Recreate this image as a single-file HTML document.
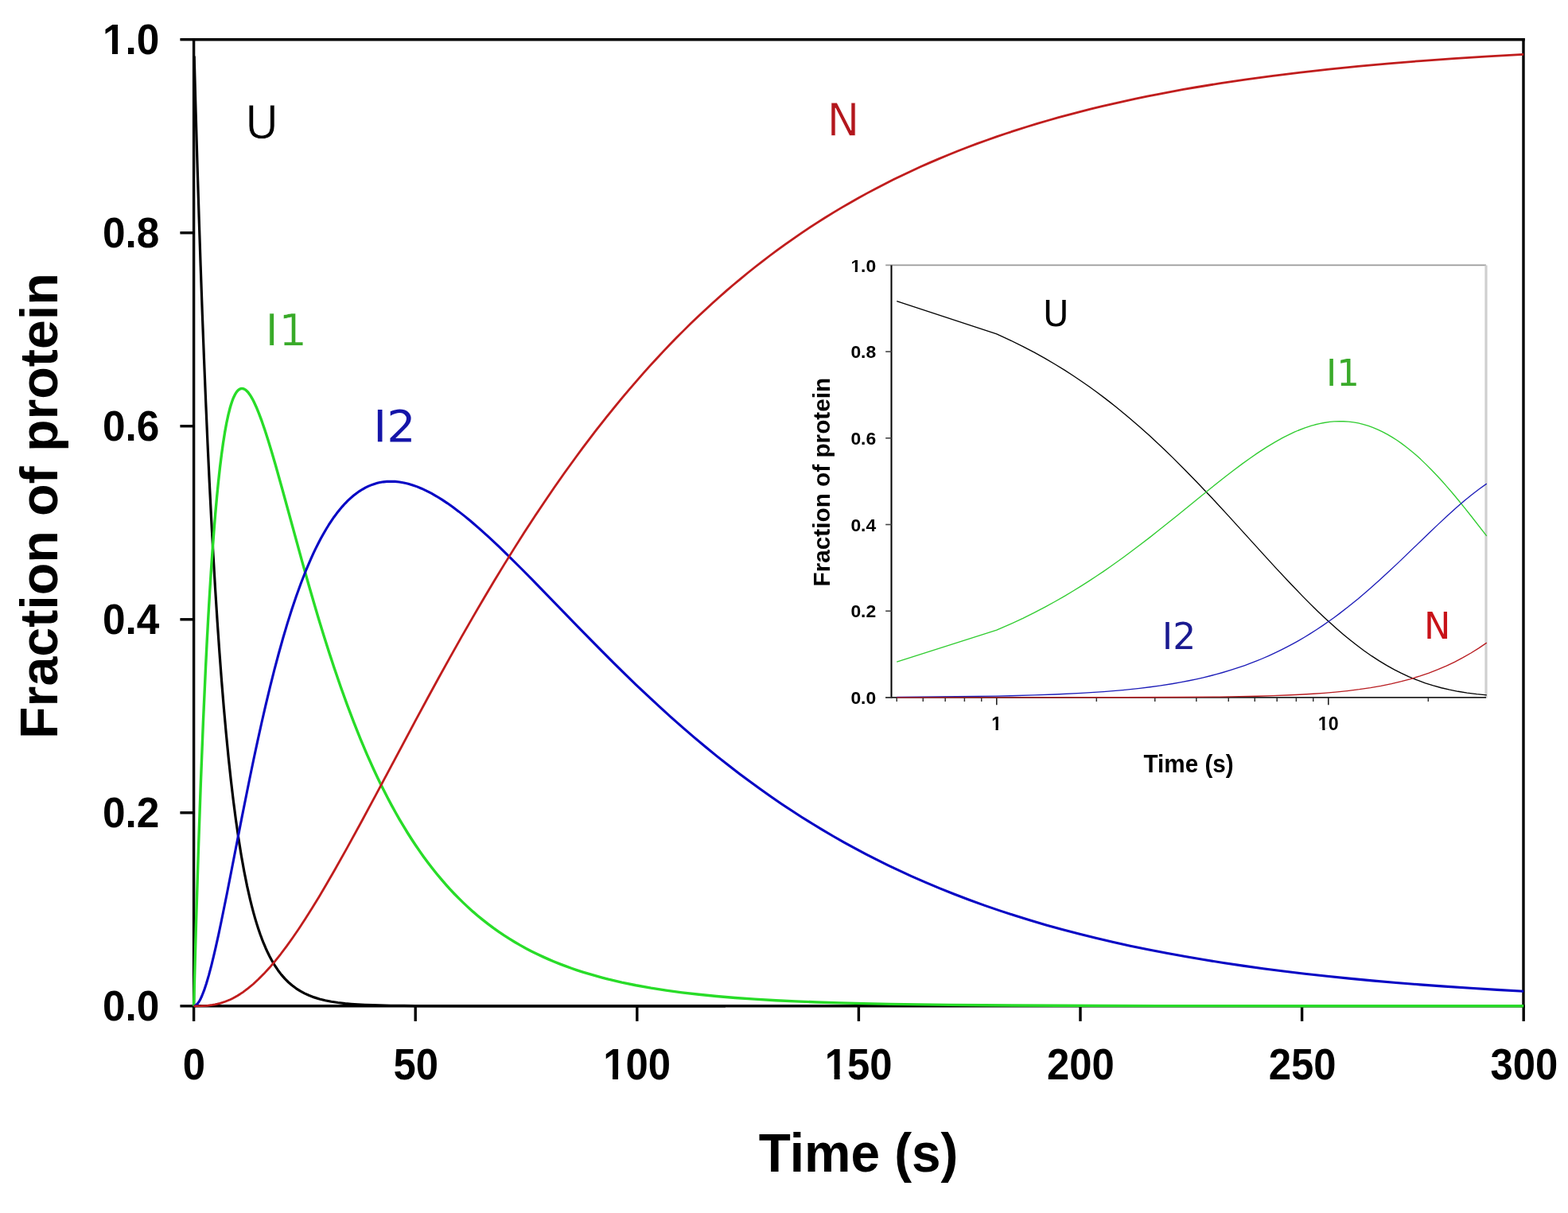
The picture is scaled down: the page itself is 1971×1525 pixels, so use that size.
<!DOCTYPE html>
<html><head><meta charset="utf-8"><title>Folding kinetics</title>
<style>html,body{margin:0;padding:0;background:#fff;} svg{display:block;}</style>
</head><body>
<svg width="1971" height="1525" viewBox="0 0 1971 1525">
<rect x="0" y="0" width="1971" height="1525" fill="#ffffff"/>
<defs><clipPath id="nofoot" clipPathUnits="userSpaceOnUse"><path fill-rule="evenodd" clip-rule="evenodd" d="M-50,-200 L1000,-200 L1000,100 L-50,100 Z M-5,-11.81 L23.34,-11.81 L23.34,6 L-5,6 Z M37.06,-11.81 L55.12,-11.81 L55.12,6 L37.06,6 Z"/></clipPath></defs>
<g stroke="#000" stroke-width="3.4" fill="none" stroke-linecap="butt">
<path d="M243.6,48.0 L243.6,1266.5"/>
<path d="M1915.0,48.0 L1915.0,1266.5"/>
<path d="M241.9,49.7 L1916.7,49.7"/>
<path d="M241.9,1264.8 L1916.7,1264.8"/>
<path d="M226.4,1264.80 L243.6,1264.80"/>
<path d="M226.4,1021.78 L243.6,1021.78"/>
<path d="M226.4,778.76 L243.6,778.76"/>
<path d="M226.4,535.74 L243.6,535.74"/>
<path d="M226.4,292.72 L243.6,292.72"/>
<path d="M226.4,49.70 L243.6,49.70"/>
<path d="M243.60,1264.8 L243.60,1283.9"/>
<path d="M522.20,1264.8 L522.20,1283.9"/>
<path d="M800.80,1264.8 L800.80,1283.9"/>
<path d="M1079.40,1264.8 L1079.40,1283.9"/>
<path d="M1358.00,1264.8 L1358.00,1283.9"/>
<path d="M1636.60,1264.8 L1636.60,1283.9"/>
<path d="M1915.20,1264.8 L1915.20,1283.9"/>
</g>
<path d="M244.16,70.60 L246.11,140.97 L248.11,209.03 L250.12,272.97 L252.18,334.65 L254.35,395.51 L256.53,452.40 L258.76,506.87 L260.98,557.70 L263.32,607.40 L265.67,653.61 L268.12,698.54 L270.68,741.98 L273.24,782.09 L275.92,820.67 L278.59,856.16 L281.38,890.12 L284.28,922.45 L287.17,951.99 L290.18,979.97 L293.30,1006.35 L296.53,1031.09 L299.88,1054.20 L303.33,1075.68 L306.90,1095.56 L310.58,1113.87 L314.48,1131.14 L316.48,1139.23 L318.49,1146.84 L320.61,1154.36 L322.72,1161.41 L324.84,1168.01 L327.07,1174.50 L329.30,1180.55 L331.64,1186.48 L333.98,1191.98 L336.43,1197.33 L338.99,1202.51 L341.56,1207.29 L345.34,1213.69 L349.36,1219.69 L353.48,1225.13 L357.83,1230.15 L362.40,1234.75 L367.08,1238.82 L372.09,1242.58 L377.33,1245.92 L382.79,1248.88 L388.69,1251.55 L394.94,1253.89 L401.62,1255.94 L408.75,1257.71 L416.44,1259.22 L424.80,1260.50 L433.94,1261.56 L441.52,1262.24 L449.76,1262.82 L458.79,1263.31 L468.71,1263.70 L490.98,1264.25 L521.04,1264.59 L601.22,1264.78 L911.90,1264.80" fill="none" stroke="#000000" stroke-width="3.2" stroke-linejoin="round"/>
<path d="M243.60,1264.80 L246.44,1162.98 L249.34,1070.21 L252.35,984.62 L255.41,907.63 L258.53,838.81 L260.20,805.57 L261.88,774.70 L263.55,746.05 L265.33,717.82 L267.11,691.86 L268.90,668.02 L270.68,646.19 L272.57,625.06 L274.47,605.93 L276.47,587.71 L278.48,571.45 L280.49,557.02 L282.60,543.64 L284.72,532.02 L286.95,521.56 L289.18,512.77 L290.29,508.96 L291.52,505.21 L292.63,502.17 L293.86,499.21 L295.09,496.66 L296.31,494.48 L297.54,492.66 L298.87,491.07 L300.10,489.96 L301.44,489.10 L302.77,488.60 L304.11,488.43 L305.45,488.59 L306.90,489.10 L308.24,489.87 L309.68,491.01 L311.13,492.45 L312.58,494.18 L314.03,496.18 L315.59,498.61 L317.15,501.32 L318.71,504.29 L322.05,511.44 L325.51,519.83 L329.19,529.71 L332.97,540.77 L336.99,553.26 L341.33,567.52 L346.24,584.32 L355.04,615.73 L379.89,706.39 L387.47,733.29 L394.49,757.57 L401.06,779.67 L407.53,800.73 L413.88,820.75 L420.12,839.75 L428.26,863.51 L436.50,886.42 L444.75,908.17 L453.11,929.05 L461.35,948.54 L469.82,967.44 L474.28,976.95 L478.73,986.16 L483.18,995.10 L487.64,1003.76 L492.09,1012.14 L497.66,1022.26 L502.11,1030.07 L507.68,1039.49 L512.14,1046.75 L517.70,1055.51 L522.16,1062.27 L527.73,1070.41 L532.18,1076.69 L537.75,1084.26 L543.32,1091.53 L548.88,1098.51 L554.45,1105.21 L560.02,1111.64 L565.59,1117.81 L571.15,1123.74 L576.72,1129.43 L582.29,1134.89 L587.86,1140.12 L594.54,1146.14 L600.11,1150.92 L606.79,1156.41 L613.47,1161.64 L620.15,1166.61 L626.83,1171.35 L633.51,1175.86 L640.19,1180.15 L646.87,1184.23 L653.56,1188.12 L661.35,1192.42 L668.03,1195.91 L675.83,1199.77 L682.51,1202.91 L689.19,1205.89 L695.87,1208.73 L703.67,1211.88 L710.35,1214.43 L718.14,1217.25 L724.82,1219.55 L732.62,1222.08 L740.41,1224.48 L748.21,1226.74 L756,1228.87 L764.91,1231.17 L781.61,1235.08 L799.43,1238.75 L818.36,1242.15 L837.29,1245.11 L857.33,1247.83 L878.49,1250.29 L900.76,1252.49 L924.15,1254.45 L948.64,1256.17 L975.37,1257.72 L999.87,1258.89 L1026.59,1259.95 L1055.54,1260.89 L1085.61,1261.67 L1119.02,1262.35 L1154.65,1262.92 L1193.62,1263.39 L1237.05,1263.78 L1331.70,1264.29 L1456.42,1264.60 L1625.68,1264.74 L1915.20,1264.79" fill="none" stroke="#28dc28" stroke-width="3.4" stroke-linejoin="round"/>
<path d="M243.60,1264.80 L244.77,1264.61 L246,1264.02 L247.22,1263.05 L248.50,1261.65 L249.78,1259.88 L251.07,1257.75 L252.40,1255.17 L253.74,1252.25 L256.53,1245.16 L259.42,1236.48 L262.54,1225.84 L265.78,1213.61 L268.56,1202.24 L271.46,1189.72 L274.58,1175.57 L277.92,1159.79 L285.28,1123.49 L304.22,1026.65 L313.70,979.47 L318.93,954.26 L323.95,930.86 L328.85,908.73 L333.64,887.87 L339.22,864.62 L344.79,842.49 L350.36,821.49 L355.82,802.02 L361.28,783.65 L366.85,766.02 L372.42,749.51 L378.11,733.78 L384.35,717.80 L387.47,710.29 L390.59,703.10 L393.71,696.23 L396.94,689.43 L400.17,682.95 L403.40,676.79 L406.64,670.93 L409.98,665.19 L413.21,659.95 L416.55,654.82 L419.90,649.99 L423.35,645.31 L426.81,640.93 L430.26,636.85 L433.72,633.06 L437.28,629.44 L440.85,626.10 L444.41,623.05 L448.09,620.18 L451.77,617.60 L455.45,615.28 L459.24,613.17 L462.80,611.43 L466.48,609.88 L469.82,608.67 L474.28,607.36 L477.62,606.59 L482.07,605.84 L486.52,605.38 L490.98,605.21 L496.55,605.38 L502.11,605.96 L507.68,606.93 L513.25,608.25 L518.82,609.92 L524.39,611.91 L529.95,614.20 L536.63,617.33 L542.20,620.22 L548.88,624.03 L555.56,628.16 L562.25,632.60 L568.93,637.31 L576.72,643.14 L583.40,648.39 L591.20,654.78 L602.33,664.36 L614.58,675.41 L627.94,687.97 L642.42,702.05 L654.67,714.25 L669.15,728.92 L729.28,790.86 L757.12,819.16 L771.59,833.62 L786.07,847.85 L799.43,860.77 L812.79,873.45 L828.38,887.93 L842.86,901.06 L857.33,913.88 L871.81,926.36 L886.29,938.52 L900.76,950.33 L915.24,961.81 L929.71,972.95 L941.96,982.11 L955.33,991.83 L968.69,1001.27 L982.05,1010.42 L994.30,1018.57 L1007.66,1027.20 L1021.03,1035.55 L1034.39,1043.65 L1047.75,1051.49 L1061.11,1059.07 L1074.48,1066.41 L1088.95,1074.08 L1102.31,1080.92 L1116.79,1088.07 L1131.27,1094.96 L1145.74,1101.60 L1163.56,1109.44 L1181.38,1116.91 L1199.19,1124.04 L1218.12,1131.26 L1237.05,1138.12 L1255.98,1144.64 L1274.91,1150.84 L1294.96,1157.06 L1315,1162.95 L1335.04,1168.52 L1356.20,1174.08 L1377.36,1179.33 L1398.52,1184.28 L1420.79,1189.18 L1443.06,1193.79 L1466.44,1198.33 L1489.83,1202.59 L1513.21,1206.57 L1537.71,1210.47 L1562.21,1214.12 L1587.82,1217.67 L1613.43,1220.97 L1640.15,1224.17 L1667.99,1227.26 L1695.83,1230.12 L1724.78,1232.85 L1754.85,1235.47 L1784.92,1237.87 L1816.09,1240.16 L1848.39,1242.32 L1881.79,1244.36 L1915.20,1246.21" fill="none" stroke="#0606c4" stroke-width="3.1" stroke-linejoin="round"/>
<path d="M243.60,1264.80 L253.02,1264.70 L260.20,1264.29 L266.89,1263.47 L270.12,1262.90 L273.35,1262.19 L276.59,1261.35 L279.71,1260.41 L282.94,1259.29 L286.06,1258.07 L289.29,1256.66 L292.41,1255.15 L295.53,1253.50 L298.65,1251.71 L301.88,1249.70 L305.11,1247.54 L308.35,1245.23 L311.69,1242.69 L318.26,1237.23 L324.95,1231.08 L331.64,1224.34 L338.55,1216.81 L345.57,1208.58 L352.81,1199.52 L360.28,1189.63 L367.86,1179.05 L375.77,1167.48 L383.90,1155.07 L392.26,1141.84 L401.06,1127.43 L410.31,1111.83 L420.01,1095.04 L435.95,1066.67 L454.11,1033.46 L472.05,1000.08 L522.16,906.16 L537.75,877.28 L551.11,852.79 L565.59,826.62 L580.06,800.87 L594.54,775.58 L607.90,752.69 L621.26,730.26 L633.51,710.12 L646.87,688.62 L659.12,669.35 L672.49,648.82 L684.74,630.47 L696.98,612.55 L709.23,595.07 L724.82,573.47 L732.62,562.93 L741.53,551.11 L749.32,540.95 L758.23,529.56 L766.02,519.78 L774.93,508.81 L782.73,499.39 L791.64,488.84 L799.43,479.79 L808.34,469.64 L816.13,460.94 L825.04,451.20 L833.95,441.66 L842.86,432.33 L850.65,424.33 L859.56,415.38 L868.47,406.62 L877.38,398.05 L886.29,389.68 L895.19,381.49 L904.10,373.49 L913.01,365.67 L921.92,358.03 L930.83,350.56 L939.74,343.26 L949.76,335.25 L958.67,328.30 L967.58,321.51 L976.48,314.89 L986.51,307.61 L996.53,300.53 L1006.55,293.64 L1016.57,286.92 L1026.59,280.39 L1036.61,274.03 L1047.75,267.16 L1057.77,261.15 L1068.91,254.67 L1078.93,249.00 L1090.06,242.87 L1101.20,236.93 L1112.34,231.17 L1123.47,225.58 L1134.61,220.16 L1145.74,214.91 L1156.88,209.81 L1168.01,204.86 L1180.26,199.60 L1191.40,194.97 L1203.65,190.03 L1215.90,185.26 L1228.14,180.65 L1240.39,176.20 L1252.64,171.90 L1264.89,167.74 L1278.25,163.36 L1290.50,159.48 L1303.87,155.41 L1317.23,151.48 L1330.59,147.70 L1343.95,144.06 L1357.32,140.55 L1370.68,137.17 L1385.15,133.66 L1398.52,130.53 L1412.99,127.28 L1427.47,124.16 L1441.94,121.16 L1456.42,118.28 L1472.01,115.31 L1487.60,112.47 L1503.19,109.75 L1534.37,104.66 L1566.66,99.84 L1600.07,95.29 L1634.59,91.03 L1670.22,87.04 L1706.97,83.34 L1745.94,79.80 L1786.03,76.56 L1827.23,73.59 L1870.66,70.81 L1915.20,68.29" fill="none" stroke="#c01d1d" stroke-width="2.8" stroke-linejoin="round"/>
<text font-family="Liberation Sans, Arial, sans-serif" font-weight="bold" font-size="100" fill="#000" transform="translate(128.99,1283.06) scale(0.5140,0.5400)">0.0</text>
<text font-family="Liberation Sans, Arial, sans-serif" font-weight="bold" font-size="100" fill="#000" transform="translate(128.99,1040.04) scale(0.5140,0.5400)">0.2</text>
<text font-family="Liberation Sans, Arial, sans-serif" font-weight="bold" font-size="100" fill="#000" transform="translate(128.99,797.02) scale(0.5140,0.5400)">0.4</text>
<text font-family="Liberation Sans, Arial, sans-serif" font-weight="bold" font-size="100" fill="#000" transform="translate(128.99,554.00) scale(0.5140,0.5400)">0.6</text>
<text font-family="Liberation Sans, Arial, sans-serif" font-weight="bold" font-size="100" fill="#000" transform="translate(128.99,310.98) scale(0.5140,0.5400)">0.8</text>
<text font-family="Liberation Sans, Arial, sans-serif" font-weight="bold" font-size="100" fill="#000" clip-path="url(#nofoot)" transform="translate(128.99,67.96) scale(0.5140,0.5400)">1.0</text>
<text font-family="Liberation Sans, Arial, sans-serif" font-weight="bold" font-size="100" fill="#000" transform="translate(229.80,1356.62) scale(0.5080,0.5480)">0</text>
<text font-family="Liberation Sans, Arial, sans-serif" font-weight="bold" font-size="100" fill="#000" transform="translate(494.50,1356.62) scale(0.5080,0.5480)">50</text>
<text font-family="Liberation Sans, Arial, sans-serif" font-weight="bold" font-size="100" fill="#000" clip-path="url(#nofoot)" transform="translate(758.17,1356.62) scale(0.5080,0.5480)">100</text>
<text font-family="Liberation Sans, Arial, sans-serif" font-weight="bold" font-size="100" fill="#000" clip-path="url(#nofoot)" transform="translate(1036.77,1356.62) scale(0.5080,0.5480)">150</text>
<text font-family="Liberation Sans, Arial, sans-serif" font-weight="bold" font-size="100" fill="#000" transform="translate(1316.07,1356.62) scale(0.5080,0.5480)">200</text>
<text font-family="Liberation Sans, Arial, sans-serif" font-weight="bold" font-size="100" fill="#000" transform="translate(1594.67,1356.62) scale(0.5080,0.5480)">250</text>
<text font-family="Liberation Sans, Arial, sans-serif" font-weight="bold" font-size="100" fill="#000" transform="translate(1873.59,1356.62) scale(0.5080,0.5480)">300</text>
<text font-family="Liberation Sans, Arial, sans-serif" font-weight="bold" font-size="100" fill="#000" transform="translate(953.74,1473.00) scale(0.6573,0.6800)">Time (s)</text>
<text font-family="Liberation Sans, Arial, sans-serif" font-weight="bold" font-size="100" fill="#000" transform="translate(71.60,928.88) rotate(-90) scale(0.6631,0.6600)">Fraction of protein</text>
<text font-family="DejaVu Sans, Verdana, sans-serif" font-size="100" fill="#000000" stroke="#fff" stroke-width="1.4" transform="translate(307.97,173.83) scale(0.5755,0.5722)">U</text>
<text font-family="DejaVu Sans, Verdana, sans-serif" font-size="100" fill="#38aa28" stroke="#fff" stroke-width="1.2" transform="translate(333.31,434.04) scale(0.5693,0.5549)">I1</text>
<text font-family="DejaVu Sans, Verdana, sans-serif" font-size="100" fill="#1515a8" transform="translate(469.34,554.70) scale(0.5706,0.5576)">I2</text>
<text font-family="DejaVu Sans, Verdana, sans-serif" font-size="100" fill="#b3161c" stroke="#fff" stroke-width="1.4" transform="translate(1039.56,170.89) scale(0.5481,0.5647)">N</text>
<path d="M1113.2,333.4 L1868.0,333.4" stroke="#9a9a9a" stroke-width="1.6" fill="none"/>
<path d="M1868.0,333.4 L1868.0,877.6999999999999" stroke="#cfcfcf" stroke-width="3.2" fill="none"/>
<path d="M1120.5,333.4 L1120.5,877.6999999999999" stroke="#000" stroke-width="2.0" fill="none"/>
<path d="M1113.2,876.9 L1868.0,876.9" stroke="#222" stroke-width="1.7" fill="none"/>
<path d="M1113.2,876.90 L1120.5,876.90" stroke="#444" stroke-width="1.6" fill="none"/>
<path d="M1113.2,768.20 L1120.5,768.20" stroke="#444" stroke-width="1.6" fill="none"/>
<path d="M1113.2,659.50 L1120.5,659.50" stroke="#444" stroke-width="1.6" fill="none"/>
<path d="M1113.2,550.80 L1120.5,550.80" stroke="#444" stroke-width="1.6" fill="none"/>
<path d="M1113.2,442.10 L1120.5,442.10" stroke="#444" stroke-width="1.6" fill="none"/>
<path d="M1127.27,876.9 L1127.27,882.0" stroke="#333" stroke-width="1.5" fill="none"/>
<path d="M1160.29,876.9 L1160.29,882.0" stroke="#333" stroke-width="1.5" fill="none"/>
<path d="M1188.21,876.9 L1188.21,882.0" stroke="#333" stroke-width="1.5" fill="none"/>
<path d="M1212.39,876.9 L1212.39,882.0" stroke="#333" stroke-width="1.5" fill="none"/>
<path d="M1233.72,876.9 L1233.72,882.0" stroke="#333" stroke-width="1.5" fill="none"/>
<path d="M1378.33,876.9 L1378.33,882.0" stroke="#333" stroke-width="1.5" fill="none"/>
<path d="M1451.76,876.9 L1451.76,882.0" stroke="#333" stroke-width="1.5" fill="none"/>
<path d="M1503.86,876.9 L1503.86,882.0" stroke="#333" stroke-width="1.5" fill="none"/>
<path d="M1544.27,876.9 L1544.27,882.0" stroke="#333" stroke-width="1.5" fill="none"/>
<path d="M1577.29,876.9 L1577.29,882.0" stroke="#333" stroke-width="1.5" fill="none"/>
<path d="M1605.21,876.9 L1605.21,882.0" stroke="#333" stroke-width="1.5" fill="none"/>
<path d="M1629.39,876.9 L1629.39,882.0" stroke="#333" stroke-width="1.5" fill="none"/>
<path d="M1650.72,876.9 L1650.72,882.0" stroke="#333" stroke-width="1.5" fill="none"/>
<path d="M1795.33,876.9 L1795.33,882.0" stroke="#333" stroke-width="1.5" fill="none"/>
<path d="M1252.80,876.9 L1252.80,886.3" stroke="#222" stroke-width="1.6" fill="none"/>
<path d="M1669.80,876.9 L1669.80,886.3" stroke="#222" stroke-width="1.6" fill="none"/>
<path d="M1127.27,378.57 L1252.80,419.98 L1270.06,427.84 L1285.82,435.57 L1300.31,443.16 L1313.74,450.62 L1326.23,457.96 L1337.92,465.16 L1348.90,472.25 L1359.25,479.21 L1369.04,486.05 L1378.33,492.77 L1387.17,499.38 L1395.59,505.87 L1403.64,512.26 L1418.74,524.70 L1432.68,536.71 L1445.62,548.31 L1451.76,553.97 L1463.45,564.98 L1474.43,575.62 L1489.74,590.90 L1503.86,605.41 L1516.96,619.18 L1529.17,632.26 L1544.27,648.66 L1588.98,697.89 L1605.21,715.59 L1622.47,734.04 L1638.22,750.38 L1646.65,758.86 L1656.66,768.67 L1664.28,775.93 L1673.39,784.32 L1680.35,790.53 L1688.70,797.71 L1696.68,804.29 L1704.32,810.32 L1714.51,817.94 L1724.15,824.68 L1733.30,830.66 L1743.23,836.65 L1752.64,841.87 L1761.59,846.41 L1771.15,850.82 L1781.21,854.97 L1791.67,858.78 L1801.56,861.93 L1811.77,864.74 L1822.21,867.20 L1832.82,869.29 L1844.23,871.14 L1856.26,872.68 L1868.76,873.92" fill="none" stroke="#000000" stroke-width="1.35" stroke-linejoin="round"/>
<path d="M1127.27,832.20 L1252.80,792.13 L1270.06,784.63 L1285.82,777.30 L1300.31,770.14 L1313.74,763.13 L1326.23,756.28 L1337.92,749.58 L1348.90,743.04 L1359.25,736.64 L1369.04,730.39 L1378.33,724.29 L1387.17,718.32 L1395.59,712.49 L1411.35,701.24 L1418.74,695.81 L1432.68,685.33 L1445.62,675.35 L1457.70,665.84 L1479.68,648.19 L1521.12,614.52 L1540.61,599.04 L1551.37,590.75 L1561.53,583.16 L1571.15,576.22 L1580.28,569.90 L1591.78,562.38 L1602.60,555.83 L1612.81,550.17 L1622.47,545.33 L1627.11,543.20 L1631.64,541.25 L1640.37,537.88 L1648.70,535.16 L1652.72,534.03 L1658.59,532.59 L1664.28,531.47 L1671.60,530.40 L1676.90,529.91 L1683.74,529.64 L1688.70,529.71 L1695.11,530.12 L1701.30,530.88 L1707.29,531.96 L1713.09,533.33 L1720.08,535.41 L1725.49,537.33 L1732.02,540.04 L1738.34,543.05 L1744.43,546.31 L1750.33,549.81 L1756.05,553.50 L1761.59,557.37 L1768.02,562.20 L1774.23,567.21 L1780.23,572.36 L1786.04,577.62 L1792.59,583.87 L1798.92,590.20 L1805.88,597.50 L1812.59,604.82 L1819.06,612.12 L1826.07,620.30 L1833.55,629.28 L1840.74,638.11 L1849.01,648.49 L1868.76,673.92" fill="none" stroke="#30cc30" stroke-width="1.35" stroke-linejoin="round"/>
<path d="M1127.27,876.43 L1252.80,875.10 L1270.06,874.74 L1300.31,873.92 L1326.23,873.00 L1359.25,871.40 L1387.17,869.58 L1411.35,867.55 L1432.68,865.33 L1445.62,863.75 L1457.70,862.09 L1474.43,859.47 L1484.78,857.64 L1494.57,855.76 L1503.86,853.81 L1512.69,851.81 L1521.12,849.75 L1529.17,847.65 L1536.88,845.50 L1547.86,842.21 L1554.82,839.96 L1564.79,836.53 L1571.15,834.20 L1580.28,830.65 L1586.13,828.25 L1594.55,824.61 L1602.60,820.92 L1610.31,817.20 L1617.70,813.44 L1624.80,809.66 L1631.64,805.85 L1640.37,800.76 L1646.65,796.92 L1654.70,791.80 L1662.41,786.67 L1669.80,781.56 L1676.90,776.46 L1683.74,771.39 L1695.11,762.59 L1707.29,752.69 L1720.08,741.80 L1733.30,730.06 L1744.43,719.85 L1757.17,707.88 L1796.23,670.25 L1808.43,658.63 L1819.85,648.00 L1830.60,638.33 L1840.74,629.58 L1850.35,621.73 L1859.47,614.73 L1868.76,608.12" fill="none" stroke="#1c1cb8" stroke-width="1.35" stroke-linejoin="round"/>
<path d="M1127.27,876.90 L1411.35,876.78 L1479.68,876.54 L1533.06,876.08 L1558.21,875.70 L1580.28,875.23 L1599.96,874.67 L1617.70,874.01 L1633.86,873.26 L1650.72,872.28 L1664.28,871.31 L1678.64,870.08 L1693.53,868.55 L1708.76,866.65 L1722.80,864.57 L1735.84,862.29 L1749.17,859.58 L1761.59,856.66 L1773.20,853.54 L1785.08,849.91 L1796.23,846.08 L1807.58,841.70 L1818.26,837.11 L1828.35,832.32 L1838.62,826.96 L1849.01,821.02 L1858.83,814.87 L1868.76,808.14" fill="none" stroke="#b81c20" stroke-width="1.35" stroke-linejoin="round"/>
<text font-family="Liberation Sans, Arial, sans-serif" font-weight="bold" font-size="100" fill="#000" transform="translate(1069.38,885.17) scale(0.2290,0.2290)">0.0</text>
<text font-family="Liberation Sans, Arial, sans-serif" font-weight="bold" font-size="100" fill="#000" transform="translate(1069.38,776.47) scale(0.2290,0.2290)">0.2</text>
<text font-family="Liberation Sans, Arial, sans-serif" font-weight="bold" font-size="100" fill="#000" transform="translate(1069.38,667.77) scale(0.2290,0.2290)">0.4</text>
<text font-family="Liberation Sans, Arial, sans-serif" font-weight="bold" font-size="100" fill="#000" transform="translate(1069.38,559.07) scale(0.2290,0.2290)">0.6</text>
<text font-family="Liberation Sans, Arial, sans-serif" font-weight="bold" font-size="100" fill="#000" transform="translate(1069.38,450.37) scale(0.2290,0.2290)">0.8</text>
<text font-family="Liberation Sans, Arial, sans-serif" font-weight="bold" font-size="100" fill="#000" clip-path="url(#nofoot)" transform="translate(1069.38,341.67) scale(0.2290,0.2290)">1.0</text>
<text font-family="Liberation Sans, Arial, sans-serif" font-weight="bold" font-size="100" fill="#000" clip-path="url(#nofoot)" transform="translate(1246.16,917.85) scale(0.2320,0.2320)">1</text>
<text font-family="Liberation Sans, Arial, sans-serif" font-weight="bold" font-size="100" fill="#000" clip-path="url(#nofoot)" transform="translate(1656.86,918.08) scale(0.2320,0.2320)">10</text>
<text font-family="Liberation Sans, Arial, sans-serif" font-weight="bold" font-size="100" fill="#000" transform="translate(1437.50,971.30) scale(0.2967,0.3180)">Time (s)</text>
<text font-family="Liberation Sans, Arial, sans-serif" font-weight="bold" font-size="100" fill="#000" transform="translate(1042.80,737.41) rotate(-90) scale(0.2973,0.2900)">Fraction of protein</text>
<text font-family="DejaVu Sans, Verdana, sans-serif" font-size="100" fill="#000000" transform="translate(1310.91,409.63) scale(0.4448,0.4458)">U</text>
<text font-family="DejaVu Sans, Verdana, sans-serif" font-size="100" fill="#3aaa2a" transform="translate(1666.91,484.70) scale(0.4498,0.4577)">I1</text>
<text font-family="DejaVu Sans, Verdana, sans-serif" font-size="100" fill="#1a1a90" transform="translate(1460.84,816.40) scale(0.4573,0.4552)">I2</text>
<text font-family="DejaVu Sans, Verdana, sans-serif" font-size="100" fill="#c81218" transform="translate(1789.94,803.40) scale(0.4471,0.4564)">N</text>
</svg>
</body></html>
